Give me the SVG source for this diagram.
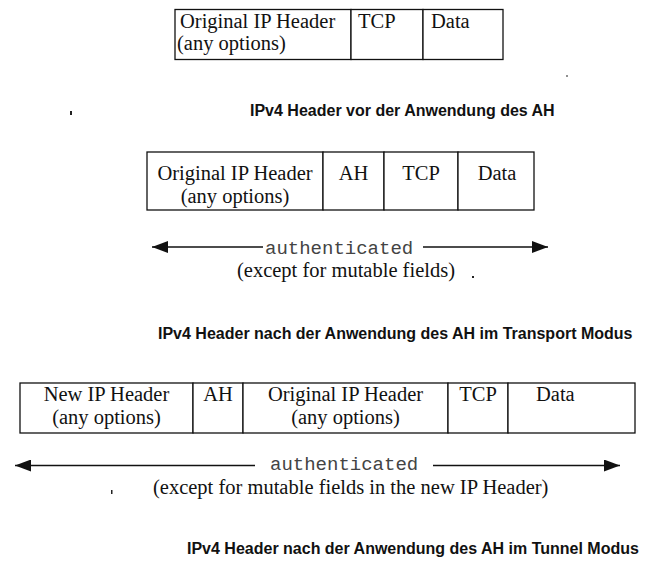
<svg xmlns="http://www.w3.org/2000/svg" width="649" height="563" viewBox="0 0 649 563">
<defs>
<marker id="ah" viewBox="0 0 16 12" refX="16" refY="6" markerWidth="16" markerHeight="12" markerUnits="userSpaceOnUse" orient="auto"><path d="M0,0 L16,6 L0,12 z" fill="#111"/></marker>
</defs>
<style>
.cell{fill:#fff;stroke:#111;stroke-width:1.3}
.t{font-family:"Liberation Serif","Times New Roman",serif;font-size:20.5px;fill:#111}
.c{text-anchor:middle}
.m{font-family:"Liberation Mono","Courier New",monospace;font-size:19px;fill:#444}
.cap{font-family:"Liberation Sans",Arial,sans-serif;font-weight:bold;font-size:16px;fill:#111}
.ln{stroke:#111;stroke-width:1.6;fill:none}
.dot{fill:#222}
</style>
<rect width="649" height="563" fill="#fff"/>

<g id="row1">
<g id="r1-ip"><rect class="cell" x="175" y="9.5" width="176" height="50"/><text class="t" x="180" y="28">Original IP Header</text><text class="t" x="177" y="50">(any options)</text></g>
<g id="r1-tcp"><rect class="cell" x="351" y="9.5" width="72" height="50"/><text class="t" x="358" y="28">TCP</text></g>
<g id="r1-data"><rect class="cell" x="423" y="9.5" width="80" height="50"/><text class="t" x="431" y="28">Data</text></g>
</g>
<text class="cap" x="250" y="116">IPv4 Header vor der Anwendung des AH</text>

<g id="row2">
<g id="r2-ip"><rect class="cell" x="147" y="152" width="176" height="58"/><text class="t c" x="235" y="180">Original IP Header</text><text class="t c" x="235" y="203">(any options)</text></g>
<g id="r2-ah"><rect class="cell" x="323" y="152" width="61" height="58"/><text class="t c" x="353.5" y="180">AH</text></g>
<g id="r2-tcp"><rect class="cell" x="384" y="152" width="74" height="58"/><text class="t c" x="421" y="180">TCP</text></g>
<g id="r2-data"><rect class="cell" x="458" y="152" width="76" height="58"/><text class="t c" x="497" y="180">Data</text></g>
</g>

<g id="row3">
<g id="r3-newip"><rect class="cell" x="20" y="383" width="173" height="50"/><text class="t c" x="106.5" y="401">New IP Header</text><text class="t c" x="106.5" y="424">(any options)</text></g>
<g id="r3-ah"><rect class="cell" x="193" y="383" width="50" height="50"/><text class="t c" x="218" y="401">AH</text></g>
<g id="r3-ip"><rect class="cell" x="243" y="383" width="205" height="50"/><text class="t c" x="345.5" y="401">Original IP Header</text><text class="t c" x="345.5" y="424">(any options)</text></g>
<g id="r3-tcp"><rect class="cell" x="448" y="383" width="60" height="50"/><text class="t c" x="478" y="401">TCP</text></g>
<g id="r3-data"><rect class="cell" x="508" y="383" width="127" height="50"/><text class="t" x="536" y="401">Data</text></g>
</g>

<g id="connectors">
<line class="ln" x1="263" y1="247" x2="152" y2="247" marker-end="url(#ah)"/>
<line class="ln" x1="423" y1="247" x2="548" y2="247" marker-end="url(#ah)"/>
<line class="ln" x1="255" y1="465.5" x2="15" y2="465.5" marker-end="url(#ah)"/>
<line class="ln" x1="433" y1="465.5" x2="620" y2="465.5" marker-end="url(#ah)"/>
</g>

<text class="m" x="265" y="254">authenticated</text>
<text class="t c" x="346" y="277">(except for mutable fields)</text>
<text class="cap" x="158" y="339">IPv4 Header nach der Anwendung des AH im Transport Modus</text>

<text class="m" x="270" y="470">authenticated</text>
<text class="t" x="153" y="494">(except for mutable fields in the new IP Header)</text>
<text class="cap" x="187" y="554">IPv4 Header nach der Anwendung des AH im Tunnel Modus</text>

<rect class="dot" x="70" y="111" width="2" height="4"/>
<rect class="dot" x="566" y="75.5" width="2" height="1" fill="#999"/>
<rect class="dot" x="472" y="276" width="2" height="2"/>
<rect class="dot" x="111" y="490" width="1.5" height="4"/>
</svg>
